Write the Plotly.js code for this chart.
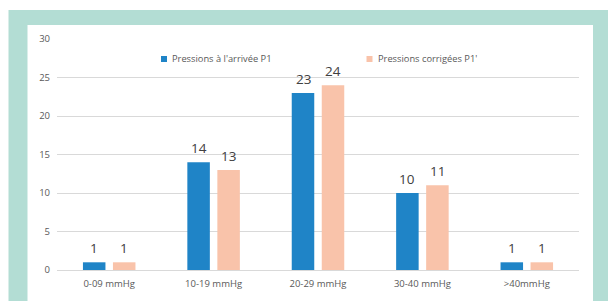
<!DOCTYPE html>
<html>
<head>
<meta charset="utf-8">
<script src="https://cdn.plot.ly/plotly-3.0.1.min.js"></script>
<style>
html,body{margin:0;padding:0;background:#fff;}
#chart{width:608px;height:301px;}
</style>
</head>
<body>
<div id="chart"></div>
<script>
const categories = ["0-09 mmHg", "10-19 mmHg", "20-29 mmHg", "30-40 mmHg", ">40mmHg"];
const arrivalValues = [1, 14, 23, 10, 1];
const correctedValues = [1, 13, 24, 11, 1];
const seriesNames = ["Pressions à l'arrivée P1", "Pressions corrigées P1'"];
const seriesColors = ["#1f84c7", "#f9c3aa"];
const yTicks = [0, 5, 10, 15, 20, 25, 30];

const W = 608, H = 301;
const L = 57, R = 29, T = 39, B = 31;
const pw = W - L - R, ph = H - T - B;
const px = v => (v - L) / pw;
const py = v => (H - B - v) / ph;

const FONT = "Open Sans, sans-serif";
const labelFont = {family: FONT, size: 13.5, color: "#404040"};

const traces = [
  {type: "bar", name: seriesNames[0], x: categories, y: arrivalValues,
   marker: {color: seriesColors[0]}, hoverinfo: "skip", showlegend: false},
  {type: "bar", name: seriesNames[1], x: categories, y: correctedValues,
   marker: {color: seriesColors[1]}, hoverinfo: "skip", showlegend: false}
];

// data labels, positioned through the axes at each bar's value
const annotations = [];
[arrivalValues, correctedValues].forEach((vals, s) => {
  vals.forEach((v, i) => {
    annotations.push({
      x: categories[i], y: v, xref: "x", yref: "y",
      text: String(v), showarrow: false, font: labelFont,
      xanchor: "center", yanchor: "middle",
      xshift: s === 0 ? -15 : 15, yshift: 14
    });
  });
});

// legend (manual, to match the small square markers)
const legendItems = [{sx: 161, tx: 170}, {sx: 366.5, tx: 376}];
const legendY = 59;
const shapes = [
  {type: "rect", xref: "paper", yref: "paper", layer: "below",
   x0: px(8.5), x1: px(620), y0: py(320), y1: py(10),
   fillcolor: "#b3ddd4", line: {width: 0}},
  {type: "rect", xref: "paper", yref: "paper", layer: "below",
   x0: px(27.5), x1: px(593), y0: py(320), y1: py(25),
   fillcolor: "#ffffff", line: {width: 0}}
];
legendItems.forEach((it, s) => {
  shapes.push({type: "rect", xref: "paper", yref: "paper",
    x0: px(it.sx), x1: px(it.sx + 6), y0: py(legendY + 3), y1: py(legendY - 3),
    fillcolor: seriesColors[s], line: {width: 0}});
  annotations.push({xref: "paper", yref: "paper", x: px(it.tx), y: py(legendY),
    xanchor: "left", yanchor: "middle", showarrow: false, text: seriesNames[s],
    font: {family: FONT, size: 9.3, color: "#595959"}});
});

const layout = {
  width: W, height: H,
  margin: {l: L, r: R, t: T, b: B, pad: 0},
  paper_bgcolor: "#ffffff",
  plot_bgcolor: "rgba(0,0,0,0)",
  barmode: "group",
  bargap: 0.425,
  bargroupgap: 0.25,
  font: {family: FONT, color: "#595959", size: 9.5},
  xaxis: {
    type: "category", showgrid: false, zeroline: false, showline: false,
    ticks: "", ticklabelstandoff: 6, tickfont: {size: 9.5, color: "#595959"}
  },
  yaxis: {
    range: [0, 30], tickvals: yTicks, ticktext: yTicks.map(String),
    showgrid: true, gridcolor: "#d9d9d9", gridwidth: 1,
    zeroline: true, zerolinecolor: "#d9d9d9", zerolinewidth: 1,
    showline: false, ticks: "", ticklabelstandoff: 6,
    tickfont: {size: 9.5, color: "#595959"}
  },
  showlegend: false,
  annotations: annotations,
  shapes: shapes
};

Plotly.newPlot("chart", traces, layout, {staticPlot: true, displayModeBar: false});
</script>
</body>
</html>
